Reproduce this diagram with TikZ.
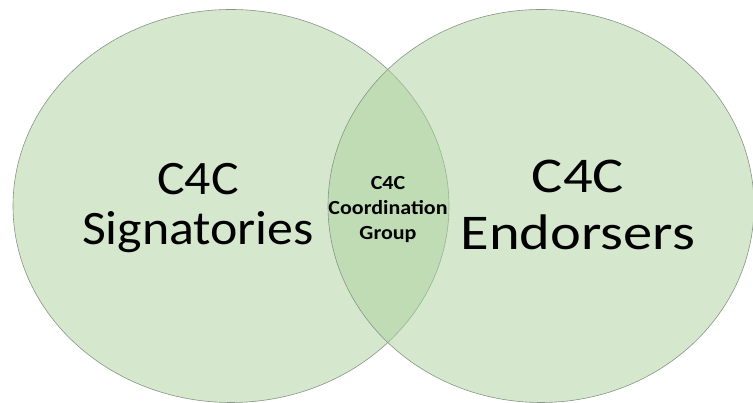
\documentclass[tikz,border=0pt]{standalone}
\usepackage{fontspec}
\setmainfont{Carlito}
\definecolor{setgreen}{RGB}{171,209,155}
\definecolor{setline}{RGB}{135,148,135}

\begin{document}
\begin{tikzpicture}[x=1pt,y=1pt,
    set/.style={fill=setgreen,fill opacity=0.5,draw=setline,line width=0.6pt},
    big/.style={align=center,font=\fontsize{48}{50}\selectfont},
    small/.style={align=center,font=\bfseries\fontsize{20}{25}\selectfont}]
    \useasboundingbox (0,0) rectangle (753,403);
    %signatories
    \draw [set] (231,197) ellipse [x radius=218,y radius=196.5];
    %endorsers
    \draw [set] (541,197) ellipse [x radius=213,y radius=196.5];
    %labels
    \node [big,xscale=1.08] (sign) at (198,195) {C4C\\Signatories};
    \node [big,font=\fontsize{50}{57}\selectfont,xscale=1.17] (endo) at (578,198.5) {C4C\\Endorsers};
    \node [small,xscale=1.1] (group) at (388,193) {C4C\\Coordination\\Group};
\end{tikzpicture}
\end{document}
